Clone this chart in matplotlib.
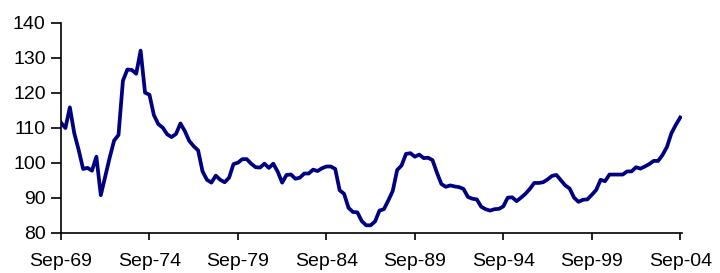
import matplotlib
matplotlib.use("Agg")
import matplotlib.pyplot as plt
import numpy as np

# Quarterly index values, Sep-69 .. Sep-04
values = [
    111.5, 110.0, 115.9, 108.5, 103.7, 98.3, 98.6, 97.8, 101.8, 90.8,
    96.1, 101.5, 106.4, 108.0, 123.5, 126.7, 126.6, 125.5, 132.1, 120.1,
    119.5, 113.7, 111.1, 110.1, 108.2, 107.4, 108.3, 111.3, 109.1, 106.3,
    104.8, 103.6, 97.6, 95.2, 94.4, 96.4, 95.2, 94.5, 95.8, 99.7,
    100.1, 101.1, 101.1, 99.8, 98.8, 98.7, 99.8, 98.6, 99.8, 97.5,
    94.4, 96.6, 96.7, 95.5, 95.8, 97.0, 97.0, 98.1, 97.7, 98.5,
    99.0, 99.0, 98.3, 92.2, 91.2, 87.2, 86.0, 85.9, 83.4, 82.2,
    82.2, 83.3, 86.4, 86.8, 89.3, 92.0, 98.0, 99.3, 102.6, 102.8,
    101.8, 102.4, 101.4, 101.5, 100.8, 97.2, 94.0, 93.2, 93.6, 93.3,
    93.1, 92.6, 90.3, 89.8, 89.6, 87.5, 86.8, 86.4, 86.8, 86.9,
    87.6, 90.1, 90.2, 89.1, 90.1, 91.2, 92.6, 94.3, 94.3, 94.5,
    95.3, 96.3, 96.6, 95.1, 93.6, 92.7, 90.1, 88.9, 89.5, 89.6,
    90.9, 92.3, 95.2, 94.8, 96.7, 96.7, 96.7, 96.7, 97.6, 97.6,
    98.8, 98.4, 99.0, 99.7, 100.6, 100.6, 102.3, 104.6, 108.5, 110.9,
    113.0,
]
tick_labels = ["Sep-69", "Sep-74", "Sep-79", "Sep-84", "Sep-89", "Sep-94", "Sep-99", "Sep-04"]
y_ticks = [80, 90, 100, 110, 120, 130, 140]

plt.rcParams['font.family'] = ['Liberation Sans', 'DejaVu Sans']

fig = plt.figure(figsize=(7.2, 2.73), dpi=100)
ax = fig.add_axes([61/720, 1 - 233/273, (682 - 61)/720, (233 - 23)/273])

x = np.arange(len(values))
ax.plot(x, values, color="#000080", linewidth=2.7, solid_joinstyle="round")

ax.set_xlim(0, len(values) - 1 + 0.4)
ax.set_ylim(80, 140)
ax.set_yticks(y_ticks)
ax.set_xticks(np.arange(0, len(values), 20))
ax.set_xticklabels(tick_labels)

for s in ["top", "right"]:
    ax.spines[s].set_visible(False)
for s in ["left", "bottom"]:
    ax.spines[s].set_linewidth(1.2)
    ax.spines[s].set_color("black")

ax.tick_params(axis="y", direction="out", length=7, width=1.2, pad=4, labelsize=14)
ax.tick_params(axis="x", direction="out", length=5, width=1.2, pad=9.5, labelsize=14)

fig.savefig("out.png", dpi=100)
